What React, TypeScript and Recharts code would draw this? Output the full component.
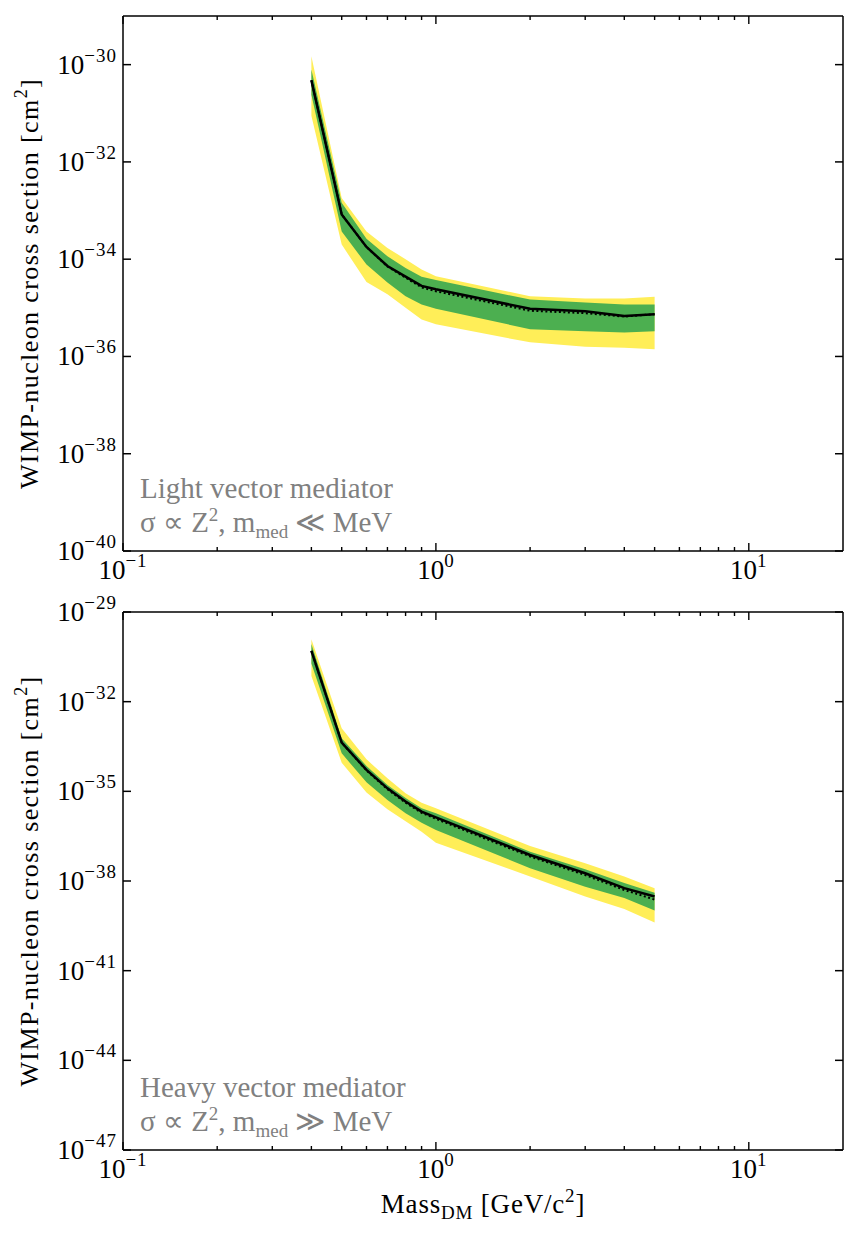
import React from "react";
import { Area, ComposedChart, Line, XAxis, YAxis } from "recharts";

// Dark matter masses in GeV/c^2
const masses = [0.4, 0.5, 0.6, 0.7, 0.8, 0.9, 1, 2, 3, 4, 5];

// All cross sections are log10(sigma / cm^2).
// Light vector mediator (top panel)
const lightObs = [-30.32, -33.08, -33.75, -34.14, -34.36, -34.55, -34.62, -35.02, -35.07, -35.17, -35.13];
const lightExp = [-30.32, -33.08, -33.75, -34.15, -34.38, -34.58, -34.66, -35.06, -35.11, -35.18, -35.13];
const lightG_hi = [-30.1, -32.84, -33.58, -33.94, -34.18, -34.36, -34.43, -34.83, -34.89, -34.93, -34.93];
const lightG_lo = [-30.62, -33.43, -34.11, -34.48, -34.76, -34.93, -35.02, -35.44, -35.48, -35.51, -35.48];
const lightY_hi = [-29.83, -32.74, -33.43, -33.77, -34.0, -34.21, -34.35, -34.76, -34.81, -34.81, -34.77];
const lightY_lo = [-31.05, -33.7, -34.47, -34.72, -35.0, -35.24, -35.34, -35.71, -35.8, -35.82, -35.85];

// Heavy vector mediator (bottom panel)
const heavyObs = [-30.3, -33.37, -34.28, -34.9, -35.34, -35.68, -35.87, -37.13, -37.74, -38.24, -38.52];
const heavyExp = [-30.3, -33.37, -34.3, -34.93, -35.38, -35.72, -35.92, -37.18, -37.8, -38.3, -38.62];
const heavyG_hi = [-30.07, -33.22, -34.15, -34.79, -35.22, -35.57, -35.73, -37.02, -37.61, -38.07, -38.39];
const heavyG_lo = [-30.72, -33.73, -34.7, -35.29, -35.73, -36.05, -36.29, -37.57, -38.19, -38.57, -38.99];
const heavyY_hi = [-29.91, -32.89, -33.93, -34.56, -35.06, -35.38, -35.57, -36.83, -37.41, -37.85, -38.24];
const heavyY_lo = [-31.14, -34.04, -35.04, -35.6, -36.0, -36.35, -36.72, -37.85, -38.52, -38.94, -39.39];

const massTicks = [0.1, 0.2, 0.3, 0.4, 0.5, 0.6, 0.7, 0.8, 0.9, 1, 2, 3, 4, 5, 6, 7, 8, 9, 10];
const majorMass = [0.1, 1, 10];
const lightTicks = [-40, -38, -36, -34, -32, -30];
const heavyTicks = [-47, -44, -41, -38, -35, -32, -29];

const FONT = "'Liberation Serif', 'Times New Roman', serif";
const GREEN = "#4caf50";
const YELLOW = "#ffee58";
const GREY = "#808080";

const W = 856;
const PLOT_L = 123;
const PLOT_R = 843;
const TOP1 = 16;
const BOT1 = 551;
const CH1 = 590;
const TOP2 = 612;
const BOT2 = 1150;
const CH2 = 645;

function buildRows(obs: number[], exp: number[], gLo: number[], gHi: number[], yLo: number[], yHi: number[]) {
  return masses.map((m, i) => ({
    m,
    obs: obs[i],
    exp: exp[i],
    g: [gLo[i], gHi[i]],
    y: [yLo[i], yHi[i]],
  }));
}

const minus = (n: number) => (n < 0 ? "\u2212" + Math.abs(n) : String(n));

function Pow10({ x, y, exp, anchor }: { x: number; y: number; exp: number; anchor: "end" | "middle" }) {
  return (
    <text x={x} y={y} textAnchor={anchor} fontSize={27} fontFamily={FONT} fill="#000">
      10
      <tspan dy={-12} fontSize={19} letterSpacing={1}>
        {minus(exp)}
      </tspan>
    </text>
  );
}

function LeftTick(p: any) {
  const { x, y, payload } = p;
  return (
    <g>
      <line x1={x} x2={x + 8} y1={y} y2={y} stroke="#000" strokeWidth={1.5} />
      <Pow10 x={x - 6} y={y + 9} exp={payload.value} anchor="end" />
    </g>
  );
}

function RightTick(p: any) {
  const { x, y } = p;
  return <line x1={x - 8} x2={x} y1={y} y2={y} stroke="#000" strokeWidth={1.5} />;
}

function BottomTick(p: any) {
  const { x, y, payload } = p;
  const major = majorMass.includes(payload.value);
  return (
    <g>
      <line x1={x} x2={x} y1={y} y2={y - (major ? 8 : 4)} stroke="#000" strokeWidth={1.4} />
      {major && <Pow10 x={x} y={y + 28} exp={Math.round(Math.log10(payload.value))} anchor="middle" />}
    </g>
  );
}

function TopTick(p: any) {
  const { x, y, payload } = p;
  const major = majorMass.includes(payload.value);
  return <line x1={x} x2={x} y1={y} y2={y + (major ? 8 : 4)} stroke="#000" strokeWidth={1.4} />;
}

interface PanelProps {
  rows: ReturnType<typeof buildRows>;
  yDomain: [number, number];
  yTicks: number[];
  height: number;
  top: number;
  xAxisHeight: number;
}

function Panel({ rows, yDomain, yTicks, height, top, xAxisHeight }: PanelProps) {
  const axisLine = { stroke: "#000", strokeWidth: 1.5 };
  return (
    <ComposedChart
      width={W}
      height={height}
      data={rows}
      margin={{ top: top - 1, right: W - PLOT_R - 1, bottom: 0, left: 0 }}
    >
      <Area type="linear" dataKey="y" fill={YELLOW} fillOpacity={1} stroke="none" isAnimationActive={false} dot={false} activeDot={false} />
      <Area type="linear" dataKey="g" fill={GREEN} fillOpacity={1} stroke="none" isAnimationActive={false} dot={false} activeDot={false} />
      {/* the expected limit rides on the mirrored top/right axes (same domains) */}
      <Line
        type="linear"
        dataKey="exp"
        xAxisId="top"
        yAxisId="right"
        stroke="#000"
        strokeWidth={2}
        strokeDasharray="2 2.5"
        dot={false}
        activeDot={false}
        isAnimationActive={false}
      />
      <Line type="linear" dataKey="obs" stroke="#000" strokeWidth={2.5} dot={false} activeDot={false} isAnimationActive={false} />
      <XAxis
        dataKey="m"
        type="number"
        scale="log"
        domain={[0.1, 20]}
        allowDataOverflow
        ticks={massTicks}
        interval={0}
        height={xAxisHeight}
        tickSize={0}
        tickMargin={0}
        tickLine={false}
        axisLine={axisLine}
        tick={BottomTick}
      />
      <XAxis
        xAxisId="top"
        orientation="top"
        dataKey="m"
        type="number"
        scale="log"
        domain={[0.1, 20]}
        allowDataOverflow
        ticks={massTicks}
        interval={0}
        height={1}
        tickSize={0}
        tickMargin={0}
        tickLine={false}
        axisLine={axisLine}
        tick={TopTick}
      />
      <YAxis
        type="number"
        domain={yDomain}
        allowDataOverflow
        ticks={yTicks}
        interval={0}
        width={PLOT_L}
        tickSize={0}
        tickMargin={0}
        tickLine={false}
        axisLine={axisLine}
        tick={LeftTick}
      />
      <YAxis
        yAxisId="right"
        orientation="right"
        type="number"
        domain={yDomain}
        allowDataOverflow
        ticks={yTicks}
        interval={0}
        width={1}
        tickSize={0}
        tickMargin={0}
        tickLine={false}
        axisLine={axisLine}
        tick={RightTick}
      />
    </ComposedChart>
  );
}

function Note({ bottom, title, rel }: { bottom: number; title: string; rel: string }) {
  return (
    <g fontFamily={FONT} fontSize={29} fill={GREY}>
      <text x={140} y={bottom - 53}>{title}</text>
      <text x={140} y={bottom - 19}>
        {"\u03c3 \u221d Z"}
        <tspan dy={-11} fontSize={19}>2</tspan>
        <tspan dy={11}>{", m"}</tspan>
        <tspan dy={6} fontSize={19}>med</tspan>
        <tspan dy={-6}>{" " + rel + " MeV"}</tspan>
      </text>
    </g>
  );
}

function YTitle({ cy }: { cy: number }) {
  return (
    <text
      transform={`translate(38, ${cy}) rotate(-90)`}
      textAnchor="middle"
      fontFamily={FONT}
      fontSize={26}
      letterSpacing={1.4}
      fill="#000"
    >
      {"WIMP-nucleon cross section [cm"}
      <tspan dy={-11} fontSize={18}>2</tspan>
      <tspan dy={11}>]</tspan>
    </text>
  );
}

export default function App() {
  const lightRows = buildRows(lightObs, lightExp, lightG_lo, lightG_hi, lightY_lo, lightY_hi);
  const heavyRows = buildRows(heavyObs, heavyExp, heavyG_lo, heavyG_hi, heavyY_lo, heavyY_hi);
  return (
    <div style={{ position: "absolute", left: 0, top: 0, width: W, height: 1235, background: "#fff" }}>
      <div style={{ position: "absolute", left: 0, top: 0 }}>
        <Panel rows={lightRows} yDomain={[-40, -29]} yTicks={lightTicks} height={CH1} top={TOP1} xAxisHeight={CH1 - BOT1} />
      </div>
      <div style={{ position: "absolute", left: 0, top: CH1 }}>
        <Panel rows={heavyRows} yDomain={[-47, -29]} yTicks={heavyTicks} height={CH2} top={TOP2 - CH1} xAxisHeight={CH1 + CH2 - BOT2} />
      </div>
      <svg width={W} height={1235} style={{ position: "absolute", left: 0, top: 0, pointerEvents: "none" }}>
        <Note bottom={BOT1} title="Light vector mediator" rel={"\u226a"} />
        <Note bottom={BOT2} title="Heavy vector mediator" rel={"\u226b"} />
        <YTitle cy={(TOP1 + BOT1) / 2} />
        <YTitle cy={(TOP2 + BOT2) / 2} />
        <text x={(PLOT_L + PLOT_R) / 2} y={1213} textAnchor="middle" fontFamily={FONT} fontSize={27} letterSpacing={0.8} fill="#000">
          Mass
          <tspan dy={6} fontSize={19}>DM</tspan>
          <tspan dy={-6}>{" [GeV/c"}</tspan>
          <tspan dy={-11} fontSize={19}>2</tspan>
          <tspan dy={11}>]</tspan>
        </text>
      </svg>
    </div>
  );
}
